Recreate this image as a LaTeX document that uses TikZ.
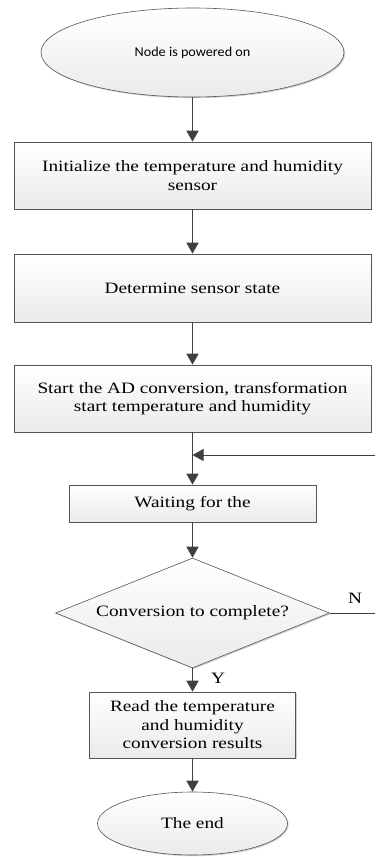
\documentclass[tikz,border=0pt]{standalone}
\usepackage{fontspec}
\setmainfont{Liberation Serif}[FakeStretch=1.22]
\newfontfamily\labelsans{Carlito}[FakeStretch=1.05]
\usetikzlibrary{shapes.geometric,arrows.meta,shadows}

\definecolor{linegray}{HTML}{555555}
\definecolor{arrowgray}{HTML}{404040}

\tikzset{
  x=1pt, y=-1pt,
  shapebase/.style={draw=linegray, line width=0.6pt, top color=white, bottom color=gray!16,
    drop shadow={shadow xshift=1.2pt, shadow yshift=-1.2pt, fill=gray!45, opacity=0.8},
    inner sep=0pt, align=center, font=\fontsize{15.8}{18.5}\selectfont, text=black},
  procbox/.style={shapebase, rectangle},
  terminal/.style={shapebase, ellipse},
  decision/.style={shapebase, diamond},
  flow/.style={draw=arrowgray, line width=1.5pt, -{Triangle[width=12pt,length=11pt]}},
  plainflow/.style={draw=arrowgray, line width=1.5pt},
  tag/.style={font=\fontsize{15.8}{18.5}\selectfont, text=black},
}

\begin{document}
\begin{tikzpicture}
\useasboundingbox (0,0) rectangle (375,857);

\node[terminal, minimum width=303pt, minimum height=89pt, font=\labelsans\fontsize{13.5}{16}\selectfont]
  (start) at (192.5,52.5) {Node is powered on};
\node[procbox, minimum width=357pt, minimum height=67pt] (init) at (192.5,175.5)
  {Initialize the temperature and humidity\\sensor};
\node[procbox, minimum width=357pt, minimum height=68pt] (state) at (192.5,288)
  {Determine sensor state};
\node[procbox, minimum width=357pt, minimum height=67pt] (adc) at (192.5,398.5)
  {Start the AD conversion, transformation\\start temperature and humidity};
\node[procbox, minimum width=247pt, minimum height=37pt] (wait) at (192.5,503.5)
  {Waiting for the};
\node[decision, minimum width=274pt, minimum height=110pt, aspect=2.49] (done) at (192.5,613)
  {Conversion to complete?};
\node[procbox, minimum width=206pt, minimum height=66pt] (read) at (192.5,725)
  {Read the temperature\\and humidity\\conversion results};
\node[terminal, minimum width=190pt, minimum height=63pt] (finish) at (192.5,823.5)
  {The end};

% loop-back junction and the right-hand ends of the return path
\coordinate (join) at (192.5,455);
\coordinate (retlow) at (375,613);
\coordinate (rethigh) at (375,455);

\draw[flow] (start) -- (init);
\draw[flow] (init) -- (state);
\draw[flow] (state) -- (adc);
\draw[plainflow] (adc) -- (join);
\draw[flow] (join) -- (wait);
\draw[flow] (wait) -- (done);
\draw[flow] (done) -- (read);
\draw[flow] (read) -- (finish);
\draw[plainflow, line width=1pt] (done.east) -- (retlow);
\draw[flow, line width=1pt] (rethigh) -- (join);

\node[tag] (nlabel) at (355,598) {N};
\node[tag] (ylabel) at (218,678) {Y};
\end{tikzpicture}
\end{document}
